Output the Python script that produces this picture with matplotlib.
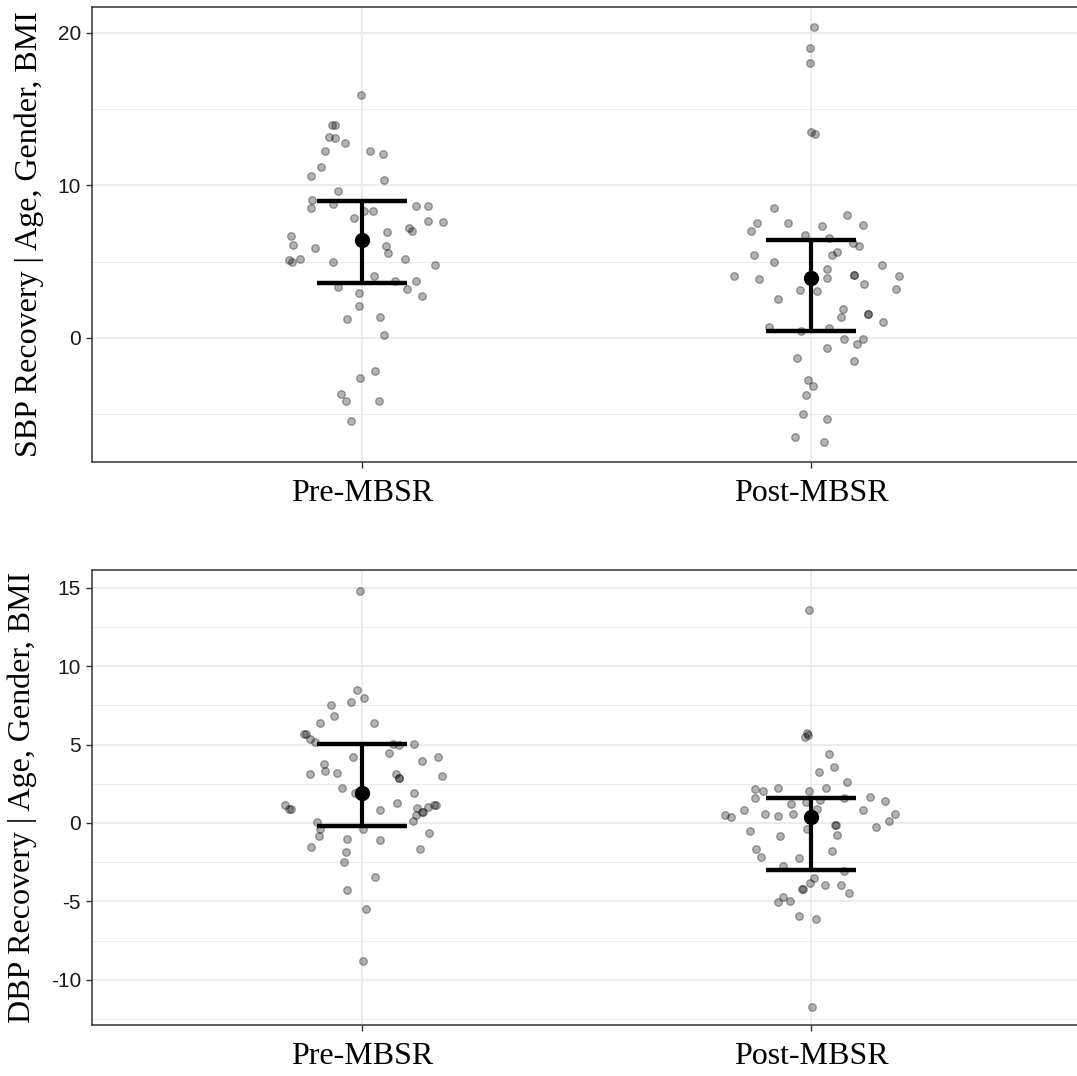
import numpy as np
import matplotlib.pyplot as plt

# groups
groups = ['Pre-MBSR', 'Post-MBSR']

# SBP recovery points (value, jitter offset)
sbp_pre = [15.95, 13.95, 13.95, 13.16, 13.11, 12.81, 12.24, 12.28, 12.05, 11.23,
           10.62, 10.36, 9.62, 9.05, 8.50, 8.79, 8.66, 8.66, 8.33, 8.35,
           7.69, 7.63, 7.85, 6.97, 7.23, 7.02, 6.71, 6.10, 5.88, 6.03,
           5.59, 5.11, 4.96, 5.16, 4.96, 5.16, 4.81, 4.09, 3.74, 3.74,
           3.37, 3.19, 2.78, 2.95, 2.08, 1.25, 1.38, 0.20, -2.16, -2.60,
           -3.65, -4.15, -4.13, -5.42]
sbp_pre_jit = [-0.002, -0.066, -0.060, -0.073, -0.060, -0.037, -0.082, 0.018, 0.047, -0.090,
               -0.113, 0.050, -0.053, -0.111, -0.113, -0.063, 0.121, 0.148, 0.004, 0.024,
               0.148, 0.181, -0.018, 0.056, 0.105, 0.111, -0.158, -0.153, -0.105, 0.054,
               0.059, -0.162, -0.156, -0.138, -0.063, 0.097, 0.162, 0.027, 0.075, 0.120,
               -0.052, 0.100, 0.133, -0.007, -0.007, -0.032, 0.041, 0.050, 0.030, -0.004,
               -0.046, -0.036, 0.039, -0.024]
sbp_post = [20.37, 19.04, 18.01, 13.53, 13.36, 8.54, 7.52, 7.00, 7.52, 7.32,
            8.07, 7.43, 6.75, 6.58, 6.21, 6.03, 5.44, 5.00, 5.44, 5.64,
            4.50, 4.77, 4.05, 3.85, 3.91, 4.13, 4.13, 4.05, 3.54, 3.23,
            3.13, 3.08, 2.56, 1.90, 1.38, 1.59, 1.59, 1.05, 0.72, 0.46,
            0.64, -0.07, -0.09, -0.41, -0.68, -1.29, -1.49, -2.77, -3.15, -3.72,
            -4.96, -5.31, -6.47, -6.84]
sbp_post_jit = [0.007, -0.002, -0.002, -0.001, 0.008, -0.083, -0.120, -0.134, -0.052, 0.024,
                0.079, 0.116, -0.014, 0.039, 0.092, 0.106, -0.128, -0.084, 0.046, 0.058,
                0.035, 0.158, -0.173, -0.117, 0.035, 0.096, 0.096, 0.196, 0.117, 0.188,
                -0.025, 0.012, -0.074, 0.070, 0.067, 0.127, 0.127, 0.159, -0.093, -0.022,
                0.039, 0.072, 0.116, 0.101, 0.034, -0.031, 0.094, -0.007, 0.004, -0.012,
                -0.018, 0.036, -0.036, 0.029]

# DBP recovery points
dbp_pre = [14.80, 8.46, 7.97, 7.74, 7.55, 6.84, 6.38, 6.40, 5.66, 5.66,
           5.36, 5.15, 5.02, 4.97, 5.02, 4.21, 4.44, 3.95, 4.21, 3.78,
           3.30, 3.14, 3.17, 3.12, 2.87, 2.87, 2.98, 2.23, 1.91, 1.93,
           1.30, 1.15, 0.89, 0.89, 0.80, 0.94, 0.68, 0.68, 0.51, 1.00,
           1.15, 1.15, 0.13, 0.08, -0.40, -0.81, -1.55, -1.02, -1.08, -0.36,
           -0.64, -1.68, -1.83, -2.51, -3.42, -4.29, -5.48, -8.78]
dbp_pre_jit = [-0.004, -0.010, 0.004, -0.024, -0.068, -0.062, -0.092, 0.027, -0.125, -0.128,
               -0.115, -0.104, 0.070, 0.083, 0.116, -0.019, 0.060, 0.135, 0.170, -0.084,
               -0.082, -0.116, -0.056, 0.077, 0.082, 0.084, 0.178, -0.043, 0.116, -0.016,
               0.079, -0.170, -0.161, -0.158, 0.040, 0.122, 0.133, 0.136, 0.120, 0.148,
               0.161, 0.165, 0.113, -0.100, -0.093, -0.096, -0.113, -0.033, 0.040, 0.002,
               0.150, 0.130, -0.036, -0.040, 0.030, -0.033, 0.009, 0.003]
dbp_post = [13.58, 5.72, 5.60, 5.47, 4.40, 3.55, 3.27, 2.61, 2.25, 2.25,
            2.17, 2.06, 1.61, 2.04, 1.66, 1.40, 1.19, 1.32, 1.47, 1.61,
            0.80, 0.84, 0.53, 0.36, 0.57, 0.45, 0.57, 0.87, 0.59, 0.15,
            -0.27, -0.13, -0.13, -0.79, -0.38, -0.51, -0.85, -1.77, -1.66, -2.19,
            -2.23, -2.72, -3.06, -3.49, -3.81, -3.95, -3.93, -4.46, -4.21, -4.21,
            -4.74, -5.02, -4.96, -5.93, -6.10, -11.71]
dbp_post_jit = [-0.006, -0.010, -0.008, -0.013, 0.040, 0.050, 0.018, 0.079, -0.075, 0.033,
                -0.125, -0.107, -0.125, -0.005, 0.131, 0.165, -0.046, -0.011, 0.020, 0.073,
                -0.150, 0.116, -0.193, -0.178, -0.104, -0.073, -0.040, 0.013, 0.186, 0.173,
                0.144, 0.052, 0.055, 0.058, -0.010, -0.137, -0.070, 0.046, -0.122, -0.111,
                -0.027, -0.063, 0.073, 0.007, -0.002, 0.030, 0.067, 0.085, -0.020, -0.018,
                -0.062, -0.073, -0.048, -0.027, 0.010, 0.001]

# adjusted means and interval bounds
sbp_mean = [6.43, 3.91]
sbp_low = [3.63, 0.48]
sbp_high = [8.98, 6.43]
dbp_mean = [1.89, 0.40]
dbp_low = [-0.17, -3.00]
dbp_high = [5.02, 1.61]

serif = 'Liberation Serif'
sans = 'Liberation Sans'
border = '#333333'
gridc = '#EBEBEB'


def panel(ax, pts, jits, means, lows, highs, ylabel, major, minor, ylim):
    for i in range(2):
        x = i + 1 + np.array(jits[i])
        ax.scatter(x, pts[i], s=30, facecolors=[(0, 0, 0, 0.3)],
                   edgecolors=[(0, 0, 0, 0.35)], linewidths=0.9, zorder=3)
    xs = np.arange(1, 3)
    ax.errorbar(xs, means, yerr=[np.array(means) - np.array(lows), np.array(highs) - np.array(means)],
                fmt='o', color='black', ms=10, elinewidth=3, capsize=0, zorder=4)
    # caps
    ax.hlines(lows, xs - 0.1, xs + 0.1, colors='black', linewidth=3.2, zorder=4)
    ax.hlines(highs, xs - 0.1, xs + 0.1, colors='black', linewidth=3.2, zorder=4)
    ax.set_xlim(0.4, 2.6)
    ax.set_ylim(*ylim)
    ax.set_xticks(xs)
    ax.set_xticklabels(groups, fontfamily=serif, fontsize=23)
    ax.set_yticks(major)
    ax.set_yticks(minor, minor=True)
    ax.set_yticklabels([str(v) for v in major], fontfamily=sans, fontsize=15, color='#1a1a1a')
    ax.set_ylabel(ylabel, fontfamily=serif, fontsize=23, labelpad=10)
    ax.grid(True, which='major', color=gridc, linewidth=1.3, zorder=0)
    ax.grid(True, which='minor', axis='y', color=gridc, linewidth=0.8, zorder=0)
    ax.set_axisbelow(True)
    ax.tick_params(axis='both', which='major', length=4, width=1, color=border, pad=4)
    ax.tick_params(axis='y', which='minor', length=0)
    ax.tick_params(axis='x', pad=8)
    for sp in ax.spines.values():
        sp.set_color(border)
        sp.set_linewidth(1.1)


fig = plt.figure(figsize=(10.77, 10.76), dpi=100)
ax1 = fig.add_axes([92 / 1077, 1 - 462 / 1076, 989 / 1077, 455 / 1076])
ax2 = fig.add_axes([92 / 1077, 1 - 1025 / 1076, 989 / 1077, 455 / 1076])

panel(ax1, [sbp_pre, sbp_post], [sbp_pre_jit, sbp_post_jit], sbp_mean, sbp_low, sbp_high,
      'SBP Recovery | Age, Gender, BMI', [0, 10, 20], [-5, 5, 15], (-8.13, 21.7))
panel(ax2, [dbp_pre, dbp_post], [dbp_pre_jit, dbp_post_jit], dbp_mean, dbp_low, dbp_high,
      'DBP Recovery | Age, Gender, BMI', [-10, -5, 0, 5, 10, 15],
      [-12.5, -7.5, -2.5, 2.5, 7.5, 12.5], (-12.88, 16.13))

fig.savefig('out.png', dpi=100)
